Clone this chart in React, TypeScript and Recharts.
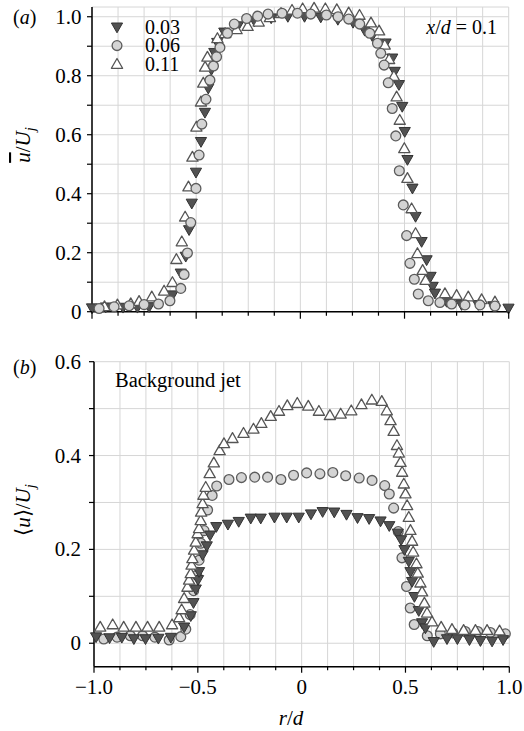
import React from 'react';
import { ScatterChart, Scatter, XAxis, YAxis, CartesianGrid, Customized } from 'recharts';

const FONT = '"Liberation Serif", "Times New Roman", serif';

// ---------- axis ticks ----------
const xTicks = [-1, -0.875, -0.75, -0.625, -0.5, -0.375, -0.25, -0.125, 0, 0.125, 0.25, 0.375, 0.5, 0.625, 0.75, 0.875, 1];
const yTicksTop = [0, 0.1, 0.2, 0.3, 0.4, 0.5, 0.6, 0.7, 0.8, 0.9, 1.0];
const yTicksBottom = [0, 0.1, 0.2, 0.3, 0.4, 0.5, 0.6];
const seriesNames = ['0.03', '0.06', '0.11'];

// ---------- panel (a): mean velocity, [r/d, u/Uj] ----------
const top003: [number, number][] = [
  [-1.0, 0.012], [-0.934, 0.015], [-0.851, 0.014], [-0.782, 0.014], [-0.726, 0.016], [-0.614, 0.056],
  [-0.574, 0.13], [-0.55, 0.187], [-0.534, 0.277], [-0.521, 0.367], [-0.501, 0.472], [-0.477, 0.576],
  [-0.458, 0.675], [-0.442, 0.757], [-0.427, 0.82], [-0.413, 0.878], [-0.399, 0.912], [-0.365, 0.947],
  [-0.3, 0.968], [-0.22, 0.985], [-0.14, 0.995], [-0.06, 1.0], [0.02, 1.0], [0.098, 0.998], [0.18, 0.99],
  [0.253, 0.98], [0.309, 0.953], [0.345, 0.935], [0.409, 0.91], [0.441, 0.859], [0.453, 0.814],
  [0.473, 0.769], [0.489, 0.695], [0.501, 0.61], [0.514, 0.515], [0.538, 0.418], [0.553, 0.322],
  [0.582, 0.237], [0.606, 0.175], [0.625, 0.119], [0.635, 0.085], [0.646, 0.062], [0.702, 0.034],
  [0.774, 0.023], [0.854, 0.023], [0.926, 0.019], [0.999, 0.011],
];
const top006: [number, number][] = [
  [-0.966, 0.011], [-0.894, 0.017], [-0.822, 0.02], [-0.75, 0.024], [-0.681, 0.026], [-0.626, 0.037],
  [-0.574, 0.079], [-0.558, 0.126], [-0.542, 0.199], [-0.526, 0.302], [-0.501, 0.418], [-0.486, 0.531],
  [-0.473, 0.636], [-0.453, 0.72], [-0.434, 0.785], [-0.417, 0.833], [-0.402, 0.864], [-0.386, 0.896],
  [-0.35, 0.944], [-0.317, 0.975], [-0.258, 0.994], [-0.205, 1.002], [-0.155, 1.009], [-0.088, 1.012],
  [-0.014, 1.012], [0.05, 1.009], [0.125, 1.006], [0.181, 1.0], [0.232, 0.992], [0.285, 0.975],
  [0.333, 0.944], [0.37, 0.91], [0.386, 0.876], [0.402, 0.836], [0.422, 0.776], [0.441, 0.689],
  [0.458, 0.596], [0.475, 0.478], [0.494, 0.362], [0.51, 0.258], [0.526, 0.164], [0.547, 0.11],
  [0.566, 0.06], [0.614, 0.037], [0.67, 0.031], [0.726, 0.026], [0.79, 0.023], [0.862, 0.023], [0.934, 0.019],
];
const top011: [number, number][] = [
  [-0.94, 0.018], [-0.878, 0.024], [-0.814, 0.028], [-0.774, 0.036], [-0.713, 0.051], [-0.654, 0.071],
  [-0.614, 0.1], [-0.595, 0.178], [-0.569, 0.238], [-0.553, 0.322], [-0.537, 0.424], [-0.518, 0.525],
  [-0.499, 0.627], [-0.477, 0.712], [-0.466, 0.776], [-0.457, 0.83], [-0.446, 0.864], [-0.398, 0.927],
  [-0.361, 0.944], [-0.306, 0.957], [-0.253, 0.968], [-0.2, 0.983], [-0.146, 0.998], [-0.093, 1.012],
  [-0.04, 1.023], [0.011, 1.028], [0.066, 1.03], [0.12, 1.028], [0.175, 1.025], [0.232, 1.014],
  [0.284, 1.006], [0.339, 0.98], [0.378, 0.953], [0.405, 0.905], [0.426, 0.856], [0.449, 0.799],
  [0.462, 0.729], [0.477, 0.65], [0.499, 0.554], [0.514, 0.453], [0.534, 0.35], [0.553, 0.266],
  [0.562, 0.198], [0.587, 0.141], [0.601, 0.107], [0.694, 0.062], [0.75, 0.056], [0.806, 0.051],
  [0.87, 0.042], [0.934, 0.034],
];

// ---------- panel (b): background jet, [r/d, <u>/Uj] ----------
const bot003: [number, number][] = [
  [-0.99, 0.013], [-0.925, 0.011], [-0.866, 0.012], [-0.808, 0.009], [-0.752, 0.009], [-0.69, 0.01],
  [-0.63, 0.012], [-0.566, 0.034], [-0.534, 0.058], [-0.521, 0.086], [-0.51, 0.115], [-0.499, 0.135],
  [-0.494, 0.152], [-0.477, 0.188], [-0.457, 0.207], [-0.441, 0.23], [-0.411, 0.248], [-0.355, 0.253],
  [-0.303, 0.259], [-0.245, 0.266], [-0.197, 0.266], [-0.131, 0.268], [-0.072, 0.268], [-0.014, 0.268],
  [0.045, 0.275], [0.101, 0.28], [0.157, 0.279], [0.216, 0.274], [0.269, 0.267], [0.325, 0.265],
  [0.38, 0.26], [0.422, 0.25], [0.463, 0.234], [0.479, 0.22], [0.495, 0.199], [0.516, 0.174],
  [0.524, 0.152], [0.532, 0.131], [0.543, 0.099], [0.564, 0.069], [0.58, 0.043], [0.596, 0.032],
  [0.636, 0.003], [0.7, 0.009], [0.75, 0.009], [0.808, 0.007], [0.861, 0.005], [0.917, 0.004], [0.97, 0.007],
];
const bot006: [number, number][] = [
  [-0.953, 0.009], [-0.889, 0.013], [-0.825, 0.016], [-0.766, 0.016], [-0.707, 0.013], [-0.638, 0.007],
  [-0.582, 0.014], [-0.558, 0.03], [-0.537, 0.061], [-0.52, 0.112], [-0.505, 0.145], [-0.494, 0.177],
  [-0.486, 0.213], [-0.47, 0.24], [-0.453, 0.284], [-0.431, 0.315], [-0.409, 0.335], [-0.35, 0.349],
  [-0.29, 0.353], [-0.226, 0.354], [-0.164, 0.354], [-0.1, 0.349], [-0.039, 0.358], [0.024, 0.363],
  [0.088, 0.361], [0.15, 0.364], [0.212, 0.357], [0.277, 0.352], [0.339, 0.347], [0.4, 0.336],
  [0.422, 0.318], [0.443, 0.288], [0.465, 0.238], [0.483, 0.182], [0.505, 0.121], [0.523, 0.075],
  [0.542, 0.04], [0.605, 0.016], [0.668, 0.02], [0.728, 0.022], [0.788, 0.025], [0.848, 0.025],
  [0.909, 0.023], [0.981, 0.02],
];
const bot011: [number, number][] = [
  [-0.97, 0.035], [-0.91, 0.04], [-0.857, 0.035], [-0.798, 0.035], [-0.742, 0.035], [-0.686, 0.035],
  [-0.624, 0.04], [-0.59, 0.055], [-0.578, 0.072], [-0.566, 0.096], [-0.55, 0.12], [-0.542, 0.135],
  [-0.534, 0.149], [-0.53, 0.167], [-0.526, 0.181], [-0.518, 0.199], [-0.51, 0.216], [-0.501, 0.234],
  [-0.494, 0.245], [-0.486, 0.262], [-0.484, 0.28], [-0.477, 0.298], [-0.473, 0.316], [-0.462, 0.333],
  [-0.443, 0.362], [-0.423, 0.385], [-0.395, 0.411], [-0.374, 0.426], [-0.333, 0.437], [-0.28, 0.448],
  [-0.232, 0.457], [-0.194, 0.469], [-0.149, 0.484], [-0.109, 0.495], [-0.069, 0.507], [-0.021, 0.512],
  [0.032, 0.506], [0.083, 0.495], [0.136, 0.486], [0.188, 0.489], [0.239, 0.496], [0.288, 0.509],
  [0.338, 0.519], [0.386, 0.516], [0.41, 0.496], [0.428, 0.475], [0.443, 0.452], [0.459, 0.422],
  [0.468, 0.406], [0.476, 0.386], [0.484, 0.365], [0.492, 0.34], [0.5, 0.319], [0.508, 0.294],
  [0.516, 0.269], [0.524, 0.241], [0.532, 0.218], [0.537, 0.195], [0.553, 0.17], [0.559, 0.15],
  [0.572, 0.129], [0.58, 0.11], [0.591, 0.086], [0.604, 0.065], [0.628, 0.046], [0.672, 0.035],
  [0.724, 0.03], [0.78, 0.028], [0.837, 0.028], [0.893, 0.028], [0.953, 0.027],
];

const toPts = (a: [number, number][]) => a.map(([r, u]) => ({ r, u }));

// ---------- marker shapes ----------
const DownTri = (p: any) => {
  const { cx, cy } = p;
  if (cx == null || cy == null) return <g />;
  const w = 5.6;
  return <path d={`M${cx - w},${cy - 4.3} L${cx + w},${cy - 4.3} L${cx},${cy + 5.5} Z`} fill="#525252" stroke="#333" strokeWidth={1} strokeLinejoin="round" />;
};
const Circ = (p: any) => {
  const { cx, cy } = p;
  if (cx == null || cy == null) return <g />;
  return <circle cx={cx} cy={cy} r={4.9} fill="#d4d4d4" stroke="#5c5c5c" strokeWidth={1.3} />;
};
const UpTri = (p: any) => {
  const { cx, cy } = p;
  if (cx == null || cy == null) return <g />;
  const w = 5.6;
  return <path d={`M${cx - w},${cy + 4.3} L${cx + w},${cy + 4.3} L${cx},${cy - 5.5} Z`} fill="#fff" stroke="#555" strokeWidth={1.3} strokeLinejoin="round" />;
};
const shapes = [DownTri, Circ, UpTri];

const fmt = (v: number) => (Math.abs(v) < 1e-9 ? '0' : (v < 0 ? '\u2212' : '') + Math.abs(v).toFixed(1));

const makeXTick = (showLabel: boolean, majorLen: number, minorLen: number) => (p: any) => {
  const { x, y, payload } = p;
  const v = payload.value;
  const major = Math.abs(v * 2 - Math.round(v * 2)) < 1e-6;
  return (
    <g>
      <line x1={x} x2={x} y1={y} y2={y + (major ? majorLen : minorLen)} stroke="#000" strokeWidth={1.2} />
      {showLabel && major && (
        <text x={x} y={y + 27.5} textAnchor="middle" fontFamily={FONT} fontSize={21} fill="#000">{fmt(v)}</text>
      )}
    </g>
  );
};
const makeYTick = (gap: number) => (p: any) => {
  const { x, y, payload } = p;
  const v = payload.value;
  const major = Math.round(v * 10) % 2 === 0;
  return (
    <g>
      <line x1={x - 5} x2={x} y1={y} y2={y} stroke="#000" strokeWidth={1.2} />
      {major && (
        <text x={x - gap} y={y + 7} textAnchor="end" fontFamily={FONT} fontSize={21} fill="#000">{fmt(v)}</text>
      )}
    </g>
  );
};

const TopAnno = () => (
  <g fontFamily={FONT} fill="#000">
    <text x={13} y={23.5} fontSize={20}>(<tspan fontStyle="italic">a</tspan>)</text>
    <text x={497} y={34} fontSize={20} textAnchor="end">
      <tspan fontStyle="italic">x</tspan>/<tspan fontStyle="italic">d</tspan> = 0.1
    </text>
    {seriesNames.map((n, i) => {
      const S = shapes[i];
      const cy = [27.3, 45.6, 64][i];
      return (
        <g key={n}>
          <S cx={117} cy={cy} />
          <text x={145} y={[34, 52.3, 70.7][i]} fontSize={20}>{n}</text>
        </g>
      );
    })}
    <text transform="translate(30,145) rotate(-90)" textAnchor="middle" fontSize={21}>
      <tspan fontStyle="italic" style={{ textDecoration: 'overline' }}>u</tspan>
      <tspan>/</tspan>
      <tspan fontStyle="italic">U</tspan>
      <tspan fontStyle="italic" fontSize={15} dy={5}>j</tspan>
    </text>
  </g>
);

const BottomAnno = () => (
  <g fontFamily={FONT} fill="#000">
    <text x={13} y={34} fontSize={20}>(<tspan fontStyle="italic">b</tspan>)</text>
    <text x={115} y={46.7} fontSize={20.5}>Background jet</text>
    <text transform="translate(30,170) rotate(-90)" textAnchor="middle" fontSize={21}>
      <tspan>{'\u27E8'}</tspan>
      <tspan fontStyle="italic">u</tspan>
      <tspan>{'\u27E9/'}</tspan>
      <tspan fontStyle="italic">U</tspan>
      <tspan fontStyle="italic" fontSize={15} dy={5}>j</tspan>
    </text>
    <text x={291} y={385} textAnchor="middle" fontSize={21}>
      <tspan fontStyle="italic">r</tspan>/<tspan fontStyle="italic">d</tspan>
    </text>
  </g>
);

const axisLine = { stroke: '#000', strokeWidth: 1.5 };

export default function App() {
  return (
    <div style={{ position: 'absolute', left: 0, top: 0, width: 524, height: 731, background: '#fff' }}>
      <div style={{ position: 'absolute', left: 0, top: 0 }}>
        <ScatterChart width={524} height={332} margin={{ top: 7, right: 15.3, bottom: 0, left: 0 }}>
          <CartesianGrid stroke="#d6d6d6" strokeWidth={1} />
          <XAxis type="number" dataKey="r" domain={[-1, 1]} ticks={xTicks} interval={0} height={20.3}
            tickSize={0} tickMargin={0} tickLine={false} tick={makeXTick(false, 7, 4)} axisLine={axisLine} />
          <YAxis type="number" dataKey="u" domain={[0, 1.033]} ticks={yTicksTop} interval={0} width={92}
            tickSize={0} tickMargin={0} tickLine={false} tick={makeYTick(10.5)} axisLine={axisLine} />
          <Scatter name={seriesNames[0]} data={toPts(top003)} shape={DownTri} isAnimationActive={false} />
          <Scatter name={seriesNames[2]} data={toPts(top011)} shape={UpTri} isAnimationActive={false} />
          <Scatter name={seriesNames[1]} data={toPts(top006)} shape={Circ} isAnimationActive={false} />
          <Customized component={TopAnno} />
        </ScatterChart>
      </div>
      <div style={{ position: 'absolute', left: 0, top: 340 }}>
        <ScatterChart width={524} height={391} margin={{ top: 21.7, right: 14.7, bottom: 0, left: 0 }}>
          <CartesianGrid stroke="#d6d6d6" strokeWidth={1} />
          <XAxis type="number" dataKey="r" domain={[-1, 1]} ticks={xTicks} interval={0} height={64.3}
            tickSize={0} tickMargin={0} tickLine={false} tick={makeXTick(true, 6, 3.5)} axisLine={axisLine} />
          <YAxis type="number" dataKey="u" domain={[-0.05, 0.6]} ticks={yTicksBottom} interval={0} width={94}
            tickSize={0} tickMargin={0} tickLine={false} tick={makeYTick(13)} axisLine={axisLine} />
          <Scatter name={seriesNames[1]} data={toPts(bot006)} shape={Circ} isAnimationActive={false} />
          <Scatter name={seriesNames[0]} data={toPts(bot003)} shape={DownTri} isAnimationActive={false} />
          <Scatter name={seriesNames[2]} data={toPts(bot011)} shape={UpTri} isAnimationActive={false} />
          <Customized component={BottomAnno} />
        </ScatterChart>
      </div>
    </div>
  );
}
